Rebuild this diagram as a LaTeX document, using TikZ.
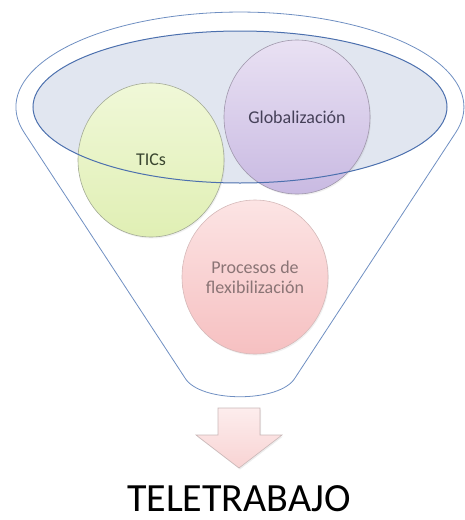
\documentclass[tikz,border=0pt]{standalone}
\usepackage{fontspec}
\setmainfont{Carlito}
\usetikzlibrary{shapes.geometric,shadows}
\definecolor{funnelblue}{HTML}{6F8FC2}
\definecolor{rimblue}{HTML}{4C70AE}
\definecolor{rimfill}{HTML}{E1E6F0}
\definecolor{greentop}{HTML}{F0F8D8}
\definecolor{greenbot}{HTML}{E0EFB4}
\definecolor{greenline}{HTML}{A3AA96}
\definecolor{purptop}{HTML}{E9E1F3}
\definecolor{purpbot}{HTML}{C9BAE2}
\definecolor{purpline}{HTML}{9F97AB}
\definecolor{pinktop}{HTML}{FCE4E4}
\definecolor{pinkbot}{HTML}{F6C0C1}
\definecolor{pinkline}{HTML}{D5B9B9}
\definecolor{arrowtop}{HTML}{FDEDED}
\definecolor{arrowbot}{HTML}{F8D3D3}
\definecolor{arrowline}{HTML}{C9B7B7}
\definecolor{ticstext}{HTML}{3A4630}
\definecolor{globtext}{HTML}{454058}
\definecolor{proctext}{HTML}{8A7475}
\tikzset{
  bubble/.style={ellipse, inner sep=0pt, minimum width=146pt, minimum height=154pt,
    line width=0.6pt, shading=axis, shading angle=0, align=center,
    font=\fontsize{18}{20}\selectfont,
    drop shadow={opacity=0.12, shadow xshift=1pt, shadow yshift=-1.5pt}},
  funnelline/.style={draw=funnelblue, line width=0.8pt},
  rimline/.style={draw=rimblue, line width=1pt},
}
\begin{document}
\begin{tikzpicture}[x=1pt,y=-1pt]
\useasboundingbox (0,0) rectangle (465,520);
% funnel outline
\draw[funnelline] (24.2,132.6) arc[start angle=164.4, end angle=375.6, x radius=224, y radius=95]
  -- (295,378) .. controls (280,403) and (200,403) .. (185,378) -- cycle;
% rim fill
\node[ellipse, fill=rimfill, inner sep=0pt, minimum width=414pt, minimum height=152pt] (rim) at (240,107) {};
% circles
\node[bubble, draw=greenline, top color=greentop, bottom color=greenbot, text=ticstext] (tics) at (151,160) {TICs};
\node[bubble, draw=purpline, top color=purptop, bottom color=purpbot, text=globtext] (glob) at (297,117) {Globalización};
\node[bubble, draw=pinkline, top color=pinktop, bottom color=pinkbot, text=proctext] (proc) at (255,277) {Procesos de\\flexibilización};
% rim outline on top
\draw[rimline] (rim.center) ellipse [x radius=207, y radius=76];
% arrow
\draw[draw=arrowline, line width=0.6pt, top color=arrowtop, bottom color=arrowbot,
  drop shadow={opacity=0.15, shadow xshift=1pt, shadow yshift=-1.5pt}]
  (218,408) -- (260,408) -- (260,435) -- (282,435) -- (239,468) -- (196,435) -- (218,435) -- cycle;
% result
\node[anchor=base, inner sep=0pt, font=\fontsize{40}{44}\selectfont] (tele) at (239,511) {TELETRABAJO};
\end{tikzpicture}
\end{document}
